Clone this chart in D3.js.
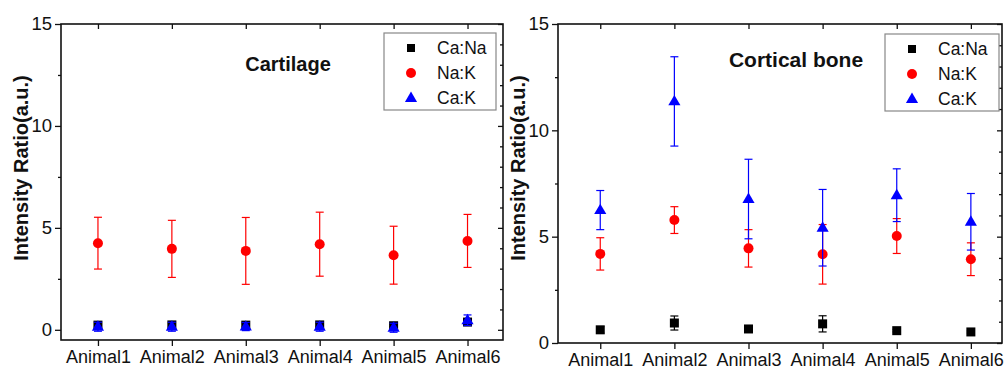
<!DOCTYPE html>
<html>
<head>
<meta charset="utf-8">
<script src="https://cdn.jsdelivr.net/npm/d3@7"></script>
<style>
  body { margin: 0; background: #fff; }
  svg { display: block; font-family: "Liberation Sans", Arial, sans-serif; }
</style>
</head>
<body>
<script>
const width = 1006
const height = 370

const categories = ['Animal1', 'Animal2', 'Animal3', 'Animal4', 'Animal5', 'Animal6']
const seriesNames = ['Ca:Na', 'Na:K', 'Ca:K']
const yTicks = [0, 5, 10, 15]

// Cartilage
const cartCaNa = [0.23, 0.24, 0.23, 0.24, 0.2, 0.38]
const cartCaNaErr = [0.06, 0.06, 0.06, 0.06, 0.05, 0.1]
const cartNaK = [4.25, 3.97, 3.87, 4.2, 3.66, 4.36]
const cartNaKErr = [1.27, 1.4, 1.64, 1.57, 1.42, 1.3]
const cartCaK = [0.15, 0.15, 0.16, 0.15, 0.1, 0.47]
const cartCaKErr = [0.22, 0.22, 0.2, 0.22, 0.22, 0.26]

// Cortical bone
const cortCaNa = [0.62, 0.94, 0.66, 0.9, 0.58, 0.52]
const cortCaNaErr = [0.15, 0.33, 0.08, 0.38, 0.06, 0.05]
const cortNaK = [4.19, 5.78, 4.45, 4.17, 5.03, 3.94]
const cortNaKErr = [0.76, 0.63, 0.88, 1.4, 0.82, 0.77]
const cortCaK = [6.25, 11.36, 6.77, 5.42, 6.95, 5.7]
const cortCaKErr = [0.92, 2.1, 1.87, 1.8, 1.24, 1.33]

const colors = ['#000000', '#ff0000', '#0000ff']

const svg = d3.select('body').append('svg')
  .attr('width', width)
  .attr('height', height)

function marker(g, i, cx, cy, s) {
  if (i === 0) {
    g.append('rect').attr('x', cx - s / 2).attr('y', cy - s / 2)
      .attr('width', s).attr('height', s).attr('fill', colors[0])
  } else if (i === 1) {
    g.append('circle').attr('cx', cx).attr('cy', cy).attr('r', s / 2 + 0.5).attr('fill', colors[1])
  } else {
    const w = s * 1.35, h = s * 1.15
    g.append('path')
      .attr('d', `M${cx},${cy - h * 0.62}L${cx + w / 2},${cy + h * 0.38}L${cx - w / 2},${cy + h * 0.38}Z`)
      .attr('fill', colors[2])
  }
}

function drawPanel(p) {
  const g = svg.append('g')
  const x = d3.scaleLinear().domain(p.xDomain).range([p.x0, p.x1])
  const y = d3.scaleLinear().domain(p.yDomain).range([p.y1, p.y0])
  const cats = categories.map((c, i) => i + 1)

  // axes
  g.append('g').attr('transform', `translate(${p.x0},0)`)
    .call(d3.axisLeft(y).tickValues(yTicks).tickSize(6).tickPadding(3).tickSizeOuter(0))
    .call(a => a.select('.domain').remove())
    .call(a => a.selectAll('text').attr('font-size', 18.5).attr('fill', '#111'))
  g.append('g').attr('transform', `translate(${p.x0},0)`)
    .call(d3.axisLeft(y).tickValues([2.5, 7.5, 12.5]).tickSize(3).tickFormat('').tickSizeOuter(0))
    .call(a => a.select('.domain').remove())
  g.append('g').attr('transform', `translate(${p.x1},0)`)
    .call(d3.axisLeft(y).tickValues(d3.range(0, 16, 1)).tickSize(-0).tickFormat('').tickSizeOuter(0))
    .call(a => a.select('.domain').remove())
    .call(a => a.selectAll('.tick line').attr('x2', d => d % 5 === 0 ? -5 : -3))
  g.append('g').attr('transform', `translate(0,${p.y1})`)
    .call(d3.axisBottom(x).tickValues(cats).tickSize(6).tickPadding(4)
      .tickFormat(d => categories[d - 1]).tickSizeOuter(0))
    .call(a => a.select('.domain').remove())
    .call(a => a.selectAll('text').attr('font-size', 18).attr('fill', '#111'))
  g.append('g').attr('transform', `translate(0,${p.y0})`)
    .call(d3.axisBottom(x).tickValues(cats).tickSize(5).tickFormat('').tickSizeOuter(0))
    .call(a => a.select('.domain').remove())
  g.selectAll('.tick line').attr('stroke', '#111').attr('stroke-width', 1.3)

  g.append('rect')
    .attr('x', p.x0).attr('y', p.y0)
    .attr('width', p.x1 - p.x0).attr('height', p.y1 - p.y0)
    .attr('fill', 'none').attr('stroke', '#111').attr('stroke-width', 1.6)

  // y title
  g.append('text')
    .attr('transform', `translate(${p.x0 - 33},168) rotate(-90)`)
    .attr('text-anchor', 'middle')
    .attr('font-size', 20).attr('font-weight', 'bold').attr('fill', '#111')
    .text('Intensity Ratio(a.u.)')

  // panel title
  g.append('text')
    .attr('x', p.titleX).attr('y', p.titleY)
    .attr('text-anchor', 'middle')
    .attr('font-size', p.titleSize).attr('font-weight', 'bold').attr('fill', '#111')
    .text(p.title)

  // series
  p.series.forEach((s, si) => {
    const sg = g.append('g')
    s.vals.forEach((v, i) => {
      const cx = x(i + 1)
      const top = y(v + s.err[i]), bot = y(v - s.err[i])
      sg.append('line').attr('x1', cx).attr('x2', cx).attr('y1', top).attr('y2', bot)
        .attr('stroke', colors[si]).attr('stroke-width', 1.2)
      ;[top, bot].forEach(yy => sg.append('line')
        .attr('x1', cx - 4).attr('x2', cx + 4).attr('y1', yy).attr('y2', yy)
        .attr('stroke', colors[si]).attr('stroke-width', 1.2))
      marker(sg, si, cx, y(v), 9)
    })
  })

  // legend
  const lg = g.append('g')
  lg.append('rect')
    .attr('x', p.legX).attr('y', p.legY).attr('width', p.legW).attr('height', 77)
    .attr('fill', '#fff').attr('stroke', '#888').attr('stroke-width', 1.2)
  seriesNames.forEach((n, i) => {
    const cy = p.legY + 15 + i * 25
    marker(lg, i, p.legX + 27, cy, i === 0 ? 8 : 9)
    lg.append('text').attr('x', p.legX + 53).attr('y', cy + 6)
      .attr('font-size', 17.5).attr('fill', '#111').text(n)
  })
}

drawPanel({
  x0: 61, x1: 503, y0: 24, y1: 340,
  xDomain: [0.5, 6.48], yDomain: [-0.5, 15],
  title: 'Cartilage', titleX: 288, titleY: 71, titleSize: 20,
  legX: 384, legY: 33, legW: 112,
  series: [
    {vals: cartCaNa, err: cartCaNaErr},
    {vals: cartNaK, err: cartNaKErr},
    {vals: cartCaK, err: cartCaKErr}
  ]
})

drawPanel({
  x0: 558, x1: 1002, y0: 24, y1: 343,
  xDomain: [0.43, 6.42], yDomain: [0, 15],
  title: 'Cortical bone', titleX: 796, titleY: 67, titleSize: 21,
  legX: 885, legY: 34, legW: 114,
  series: [
    {vals: cortCaNa, err: cortCaNaErr},
    {vals: cortNaK, err: cortNaKErr},
    {vals: cortCaK, err: cortCaKErr}
  ]
})
</script>
</body>
</html>
